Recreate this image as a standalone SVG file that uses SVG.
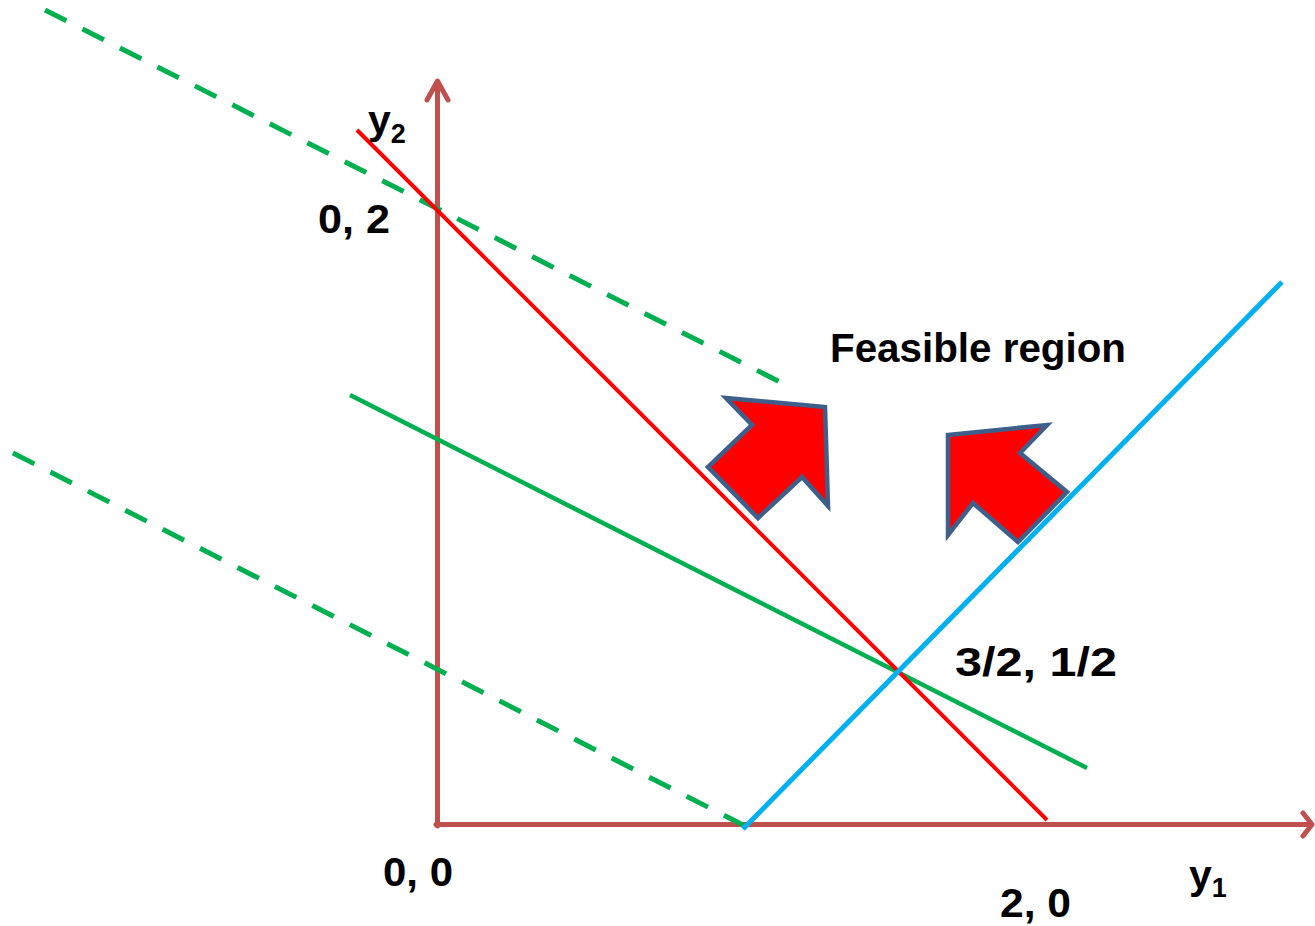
<svg xmlns="http://www.w3.org/2000/svg" width="1315" height="926" viewBox="0 0 1315 926">
  <style>
    .axis { stroke: #C0504D; stroke-width: 5; fill: none; stroke-linecap: round; stroke-linejoin: round; }
    .green { stroke: #00B050; stroke-width: 4.5; fill: none; }
    .dash { stroke-dasharray: 24 18; stroke-width: 5; }
    .red { stroke: #FF0000; stroke-width: 4; fill: none; }
    .blue { stroke: #00B0F0; stroke-width: 5; fill: none; }
    .blk { fill: #FF0000; stroke: #3E5F8A; stroke-width: 4.5; stroke-linejoin: miter; }
    .lbl { font-family: "Liberation Sans", Arial, sans-serif; font-weight: bold; font-size: 41px; fill: #000; }
    .sub { font-size: 27px; }
  </style>
  <rect width="1315" height="926" fill="#FFFFFF"/>
  <g id="connectors">
    <g id="axes">
      <line class="axis" x1="437.5" y1="826" x2="437.5" y2="82"/>
      <polyline class="axis" points="427,100 437.5,81 448,100"/>
      <line class="axis" x1="436" y1="824.5" x2="1311" y2="824.5"/>
      <polyline class="axis" points="1303,813 1312,824.5 1303,836"/>
    </g>
    <line id="dash-top" class="green dash" x1="45" y1="10" x2="780" y2="382"/>
    <line id="dash-bottom" class="green dash" x1="13" y1="453" x2="745" y2="826"/>
    <line id="green-solid" class="green" x1="350" y1="395" x2="1087" y2="768"/>
    <line id="red-line" class="red" x1="357" y1="130" x2="1047" y2="820"/>
    <line id="blue-line" class="blue" x1="743" y1="829" x2="1282" y2="282"/>
  </g>
  <g id="arrow-left">
    <polygon class="blk" points="726,398 825,407 828,506 802,477 758,518 708,467 752,425"/>
  </g>
  <g id="arrow-right">
    <polygon class="blk" points="948,435 1047,425 1020,453 1067,492 1018,542 973,503 948,535"/>
  </g>
  <g id="labels">
    <text class="lbl" x="830" y="362" textLength="296" lengthAdjust="spacingAndGlyphs">Feasible region</text>
    <text class="lbl" x="318" y="233" textLength="72" lengthAdjust="spacingAndGlyphs">0, 2</text>
    <text class="lbl" x="383" y="886" textLength="70" lengthAdjust="spacingAndGlyphs">0, 0</text>
    <text class="lbl" x="1000" y="917" textLength="71" lengthAdjust="spacingAndGlyphs">2, 0</text>
    <text class="lbl" x="955" y="676" textLength="162" lengthAdjust="spacingAndGlyphs">3/2, 1/2</text>
    <text class="lbl" x="368" y="134">y<tspan class="sub" dy="9">2</tspan></text>
    <text class="lbl" x="1189" y="889">y<tspan class="sub" dy="8">1</tspan></text>
  </g>
</svg>
